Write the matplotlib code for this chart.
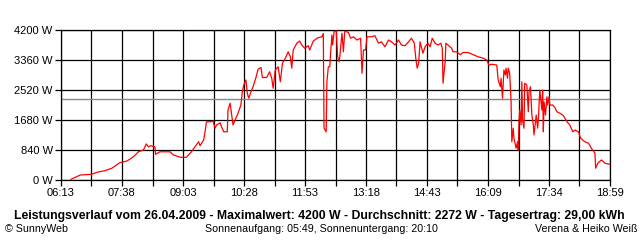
import matplotlib
matplotlib.use("Agg")
import matplotlib.pyplot as plt

# minutes after midnight / watts
times = [387, 400, 416, 423, 434, 444, 455, 465, 474, 481, 488, 492, 495, 498, 504,
         505, 511, 525, 530, 540, 548, 555, 560, 565, 567, 572, 574, 576, 581, 585,
         588, 590, 595, 597, 600, 605, 606, 609, 613, 616, 620, 624, 626, 628, 631,
         633, 635, 638, 641, 645, 648, 652, 654, 660, 664, 667, 669, 672, 676, 679,
         682, 686, 690, 693, 695, 697, 702, 706, 709, 713, 718, 720, 725, 731, 737,
         739, 740, 743, 744, 746, 748, 749, 751, 752, 754, 757, 759, 761, 762, 765,
         767, 769, 774, 777, 781, 786, 791, 793, 795, 798, 800, 806, 811, 816, 820,
         825, 830, 834, 839, 844, 848, 853, 858, 862, 866, 868, 870, 872, 874, 878,
         881, 885, 888, 891, 895, 899, 903, 905, 906, 909, 910, 913, 918, 920, 925,
         930, 934, 941, 948, 955, 962, 967, 970, 974, 981, 983, 986, 987, 989, 991,
         993, 994, 996, 997, 999, 1001, 1002, 1004, 1005, 1008, 1010, 1011, 1012, 1013, 1015,
         1016, 1017, 1019, 1020, 1023, 1025, 1026, 1028, 1030, 1032, 1033, 1036, 1038, 1039, 1041,
         1044, 1045, 1046, 1047, 1049, 1051, 1052, 1054, 1055, 1059, 1062, 1065, 1069, 1074, 1079,
         1083, 1087, 1090, 1095, 1098, 1104, 1109, 1113, 1118, 1119, 1122, 1127, 1132, 1138, 1139]
watts = [20, 140, 160, 215, 260, 330, 485, 530, 650, 790, 840, 1010, 930, 960, 930,
         720, 790, 790, 700, 635, 635, 790, 930, 1070, 960, 1120, 1350, 1630, 1630, 1650,
         1450, 1540, 1600, 1490, 1350, 1350, 1960, 2150, 1540, 1680, 1870, 2100, 2470, 2660, 2800,
         2420, 2290, 2470, 2610, 2870, 3100, 3150, 2870, 2870, 3030, 2850, 2570, 3080, 3170, 2750,
         3270, 3410, 3590, 3450, 3130, 3640, 3830, 3890, 3780, 3690, 3760, 3640, 3890, 3980, 4010,
         4100, 1450, 1350, 2750, 3170, 3170, 3500, 4060, 3780, 4150, 4180, 3450, 3310, 3450, 4110,
         3590, 4170, 4130, 3970, 4010, 3920, 3970, 2990, 3640, 3640, 4010, 4010, 4040, 3830, 3870,
         3730, 3920, 3870, 3780, 3920, 3780, 3760, 3870, 3970, 3830, 3410, 3130, 3270, 3870, 3550,
         3730, 3830, 3730, 3970, 3830, 3780, 3830, 3690, 2710, 3310, 3830, 3780, 3690, 3590, 3590,
         3510, 3570, 3570, 3510, 3450, 3410, 3360, 3220, 3240, 3220, 2800, 2610, 2850, 2290, 3080,
         2940, 3130, 2850, 3130, 2990, 2190, 1070, 1450, 1170, 890, 1070, 840, 1630, 1960, 1540,
         2750, 1680, 1450, 2710, 2660, 1910, 2470, 2610, 1820, 1540, 1260, 1820, 1450, 1680, 2520,
         1960, 2520, 1350, 2190, 1820, 2330, 2100, 2330, 2100, 2100, 2030, 1910, 1870, 1800, 1630,
         1540, 1350, 1400, 1350, 1170, 1070, 1030, 890, 750, 330, 470, 560, 470, 440, 440]

average = 2272
y_ticks = [0, 840, 1680, 2520, 3360, 4200]
x_start, x_end = 373, 1139  # 06:13 .. 18:59
x_labels = ["06:13", "07:38", "09:03", "10:28", "11:53",
            "13:18", "14:43", "16:09", "17:34", "18:59"]

title = ("Leistungsverlauf vom 26.04.2009 - Maximalwert: 4200 W - "
         "Durchschnitt: 2272 W - Tagesertrag: 29,00 kWh")
sun = "Sonnenaufgang: 05:49, Sonnenuntergang: 20:10"

plt.rcParams['font.family'] = ['Liberation Sans', 'DejaVu Sans']

fig = plt.figure(figsize=(6.4, 2.4), dpi=100)
ax = fig.add_axes([61 / 640, 1 - 180 / 240, 549 / 640, 150 / 240])

ax.axhline(average, color="#888888", lw=1.0, zorder=2)
ax.plot(times, watts, color="#ff0000", lw=0.9, zorder=3)

n = 18
xt = [x_start + i * (x_end - x_start) / n for i in range(n + 1)]
ax.set_xticks(xt)
ax.set_xticklabels([x_labels[i // 2] if i % 2 == 0 else "" for i in range(n + 1)])
ax.set_yticks(y_ticks)
ax.set_yticklabels([f"{v} W" for v in y_ticks])
ax.set_xlim(x_start, x_end)
ax.set_ylim(0, 4200)

ax.grid(True, color="black", lw=0.9, zorder=1)
ax.tick_params(length=4, width=0.9, labelsize=8, pad=2)
for s in ax.spines.values():
    s.set_linewidth(0.9)

fig.text(319 / 640, 1 - 216 / 240, title, ha="center", va="center",
         fontsize=8.8, fontweight="bold")
fig.text(5 / 640, 1 - 229 / 240, "© SunnyWeb", ha="left", va="center", fontsize=7.7)
fig.text(321 / 640, 1 - 229 / 240, sun, ha="center", va="center", fontsize=7.7)
fig.text(637 / 640, 1 - 229 / 240, "Verena & Heiko Weiß", ha="right", va="center", fontsize=7.7)

fig.savefig("out.png", dpi=100, facecolor="white")
